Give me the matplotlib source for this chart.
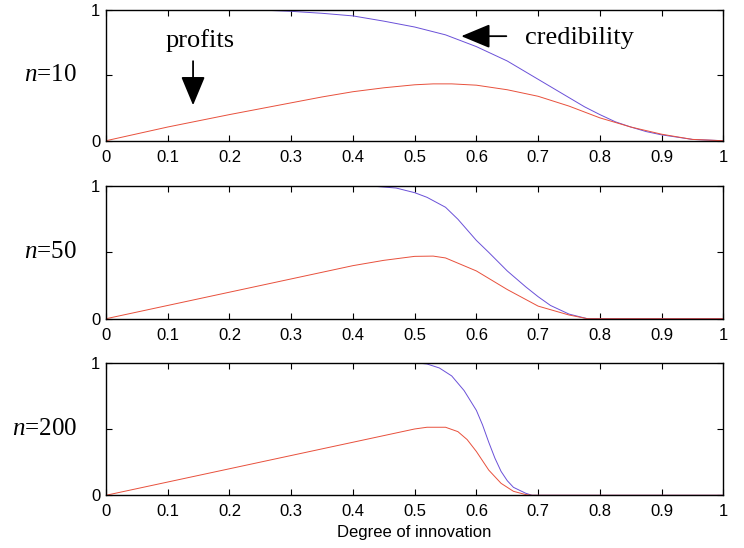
import numpy as np
import matplotlib.pyplot as plt

plt.rcParams['mathtext.fontset'] = 'custom'
plt.rcParams['mathtext.rm'] = 'Liberation Serif'
plt.rcParams['mathtext.it'] = 'Liberation Serif:italic'

# degree of innovation (x) and curves, one set per n
x10_cred = [0, 0.25, 0.3, 0.35, 0.4, 0.45, 0.5, 0.55, 0.6, 0.65, 0.7, 0.75, 0.775, 0.8, 0.825, 0.85, 0.875, 0.9, 0.95, 1.0]
cred10 = [1, 1, 0.99, 0.975, 0.955, 0.915, 0.87, 0.81, 0.72, 0.61, 0.47, 0.33, 0.26, 0.2, 0.145, 0.105, 0.07, 0.045, 0.01, 0]
x10_prof = [0, 0.1, 0.2, 0.3, 0.35, 0.4, 0.45, 0.5, 0.53, 0.56, 0.6, 0.65, 0.7, 0.75, 0.8, 0.85, 0.9, 0.95, 1.0]
prof10 = [0, 0.105, 0.2, 0.29, 0.335, 0.375, 0.405, 0.428, 0.435, 0.435, 0.425, 0.39, 0.34, 0.265, 0.175, 0.105, 0.05, 0.01, 0]

x50_cred = [0, 0.43, 0.47, 0.5, 0.52, 0.55, 0.57, 0.6, 0.62, 0.65, 0.68, 0.7, 0.72, 0.75, 0.78, 1.0]
cred50 = [1, 1, 0.985, 0.95, 0.915, 0.84, 0.75, 0.59, 0.5, 0.36, 0.24, 0.166, 0.1, 0.035, 0, 0]
x50_prof = [0, 0.1, 0.2, 0.3, 0.4, 0.45, 0.5, 0.53, 0.55, 0.6, 0.65, 0.7, 0.75, 0.78, 1.0]
prof50 = [0, 0.1, 0.2, 0.3, 0.4, 0.44, 0.47, 0.472, 0.458, 0.36, 0.22, 0.095, 0.028, 0, 0]

x200_cred = [0.5, 0.52, 0.54, 0.56, 0.58, 0.6, 0.61, 0.62, 0.63, 0.64, 0.65, 0.66, 0.68, 0.69, 1.0]
cred200 = [1, 0.99, 0.96, 0.9, 0.79, 0.64, 0.53, 0.4, 0.28, 0.18, 0.11, 0.06, 0.015, 0, 0]
x200_prof = [0, 0.1, 0.2, 0.3, 0.4, 0.5, 0.52, 0.55, 0.57, 0.585, 0.6, 0.62, 0.64, 0.66, 0.68, 0.69, 1.0]
prof200 = [0, 0.1, 0.2, 0.3, 0.4, 0.5, 0.513, 0.513, 0.48, 0.42, 0.33, 0.19, 0.09, 0.03, 0.005, 0, 0]

panels = [
    ('10', x10_cred, cred10, x10_prof, prof10),
    ('50', x50_cred, cred50, x50_prof, prof50),
    ('200', x200_cred, cred200, x200_prof, prof200),
]

xticks = [0, 0.1, 0.2, 0.3, 0.4, 0.5, 0.6, 0.7, 0.8, 0.9, 1]
xticklabels = ['0', '0.1', '0.2', '0.3', '0.4', '0.5', '0.6', '0.7', '0.8', '0.9', '1']

blue = '#6a50d8'
red = '#e8503c'

fig = plt.figure(figsize=(7.44, 5.48), dpi=100)
bottoms = [0.7432, 0.4184, 0.0962]
heights = [0.2385, 0.2421, 0.242]

for (n, xc, yc, xp, yp), b, h in zip(panels, bottoms, heights):
    ax = fig.add_axes([0.1425, b, 0.8297, h])
    ax.plot(xc, yc, color=blue, lw=0.7)
    ax.plot(xp, yp, color=red, lw=0.7)
    ax.set_xlim(0, 1)
    ax.set_ylim(0, 1)
    ax.set_xticks(xticks)
    ax.set_xticklabels(xticklabels, family='Liberation Sans', fontsize=12)
    ax.set_yticks([0, 0.5, 1])
    ax.set_yticklabels(['0', '', '1'], family='Liberation Sans', fontsize=12)
    ax.tick_params(direction='in', top=True, right=True, length=4, width=0.8)
    ax.tick_params(axis='x', pad=6.5)
    ax.tick_params(axis='y', pad=4)
    for s in ax.spines.values():
        s.set_linewidth(1.0)
    ax.text(-0.047, 0.5, '$\\mathit{n}$=' + n, transform=ax.transAxes, ha='right', va='center',
            family='Liberation Serif', fontsize=18)
    if n == '10':
        ax.annotate('', xy=(0.141, 0.25), xytext=(0.141, 0.63),
                    arrowprops=dict(arrowstyle='-|>,head_length=1.8,head_width=0.75', color='black', lw=1.3))
        ax.text(0.152, 0.765, 'profits', ha='center', va='center', family='Liberation Serif', fontsize=19)
        ax.annotate('', xy=(0.571, 0.8), xytext=(0.653, 0.8),
                    arrowprops=dict(arrowstyle='-|>,head_length=1.8,head_width=0.75', color='black', lw=1.3))
        ax.text(0.678, 0.785, 'credibility', ha='left', va='center', family='Liberation Serif', fontsize=19)
    if n == '200':
        ax.set_xlabel('Degree of innovation', family='Liberation Sans', fontsize=12, labelpad=4)

plt.savefig('out.png', dpi=100)
